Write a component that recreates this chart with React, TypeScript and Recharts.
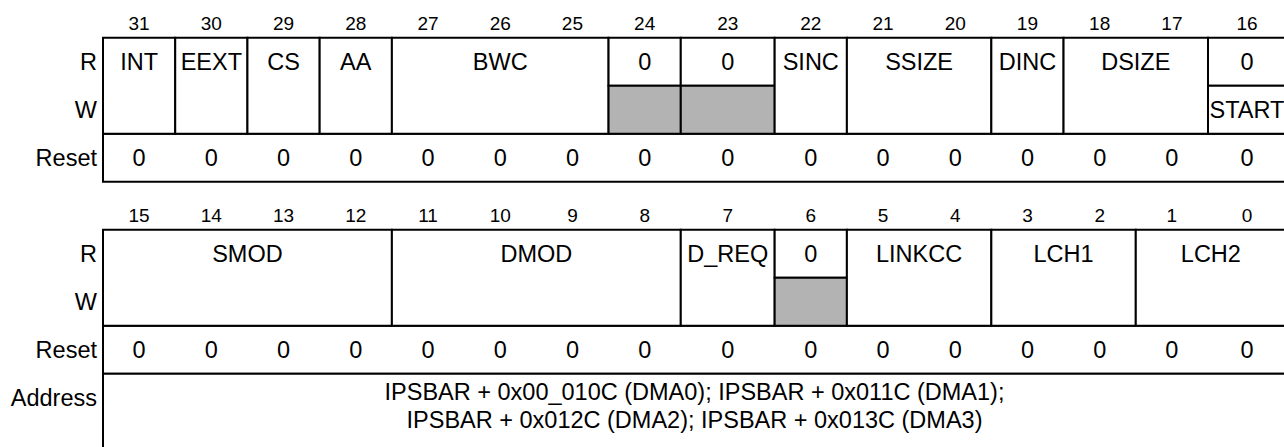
import React from 'react';
import { ComposedChart, XAxis, YAxis, ReferenceArea, Scatter, LabelList } from 'recharts';

// ---- data ----
const bitNumbers = [31, 30, 29, 28, 27, 26, 25, 24, 23, 22, 21, 20, 19, 18, 17, 16, 15, 14, 13, 12, 11, 10, 9, 8, 7, 6, 5, 4, 3, 2, 1, 0];
const resetValues = [0, 0, 0, 0, 0, 0, 0, 0, 0, 0, 0, 0, 0, 0, 0, 0, 0, 0, 0, 0, 0, 0, 0, 0, 0, 0, 0, 0, 0, 0, 0, 0];

const fieldNames = ['INT', 'EEXT', 'CS', 'AA', 'BWC', '0', '0', 'SINC', 'SSIZE', 'DINC', 'DSIZE', '0', 'SMOD', 'DMOD', 'D_REQ', '0', 'LINKCC', 'LCH1', 'LCH2'];
const fieldMsb = [31, 30, 29, 28, 27, 24, 23, 22, 21, 19, 18, 16, 15, 11, 7, 6, 5, 3, 1];
const fieldLsb = [31, 30, 29, 28, 25, 24, 23, 22, 20, 19, 17, 16, 12, 8, 7, 6, 4, 2, 0];
// rw = read/write field, r = read-only (write shaded), split = separate read / write names
const fieldAccess = ['rw', 'rw', 'rw', 'rw', 'rw', 'r', 'r', 'rw', 'rw', 'rw', 'rw', 'split', 'rw', 'rw', 'rw', 'r', 'rw', 'rw', 'rw'];
const fieldWriteNames = ['', '', '', '', '', '', '', '', '', '', '', 'START', '', '', '', '', '', '', ''];

const rowLabels = ['R', 'W', 'Reset', 'R', 'W', 'Reset', 'Address'];
const addressLines = [
  'IPSBAR + 0x00_010C (DMA0); IPSBAR + 0x011C (DMA1);',
  'IPSBAR + 0x012C (DMA2); IPSBAR + 0x013C (DMA3)',
];

// ---- layout / style ----
const FONT = '"Liberation Sans", Arial, Helvetica, sans-serif';
const TEXT_SIZE = 23.5;
const BIT_SIZE = 19;
const GRAY = '#b3b3b3';
const LINE = '#000';

// column layout: slot = bit % 16 (15 at left, 0 at right); a few columns are drawn wider
const slotWidth = (s: number) => (s === 7 ? 1.3 : s === 0 ? 1.08 : 1);
const slotLeft = (s: number) => {
  let x = 0;
  for (let k = 15; k > s; k--) x += slotWidth(k);
  return x;
};
const X_MAX = slotLeft(0) + slotWidth(0);
const slotCenter = (s: number) => slotLeft(s) + slotWidth(s) / 2;

const blockTop = (bit: number) => (bit >= 16 ? 0 : 4);
const rowTicks = [0.5, 1.5, 2.5, 4.5, 5.5, 6.5, 7.5];

const bitPoints = bitNumbers.map((b) => ({ x: slotCenter(b % 16), y: blockTop(b) - 0.31, v: String(b) }));
const resetPoints = resetValues.map((v, i) => {
  const b = bitNumbers[i];
  return { x: slotCenter(b % 16), y: blockTop(b) + 2.5, v: String(v) };
});

const Invisible = () => <g />;

const textStyle = { fontSize: TEXT_SIZE, fontFamily: FONT, fill: '#000' };
const centerLabel = (value: string) => ({ value, position: 'center' as const, ...textStyle });

const AddressLabel = (props: any) => {
  const vb = props.viewBox || {};
  const cx = vb.x + vb.width / 2;
  return (
    <text textAnchor="middle" fontSize={TEXT_SIZE} fontFamily={FONT} fill="#000">
      {addressLines.map((l, i) => (
        <tspan key={i} x={cx} y={vb.y + 26 + i * 28}>
          {l}
        </tspan>
      ))}
    </text>
  );
};

export default function App() {
  const cells: React.ReactNode[] = [];

  [0, 4].forEach((top, k) => {
    cells.push(
      <ReferenceArea key={`reset-${k}`} x1={0} x2={X_MAX} y1={top + 2} y2={top + 3} fill="#fff" fillOpacity={1} stroke={LINE} strokeWidth={2} ifOverflow="visible" />
    );
  });
  cells.push(
    <ReferenceArea key="address" x1={0} x2={X_MAX} y1={7} y2={9.6} fill="#fff" fillOpacity={1} stroke={LINE} strokeWidth={2} ifOverflow="visible" label={AddressLabel} />
  );

  fieldNames.forEach((name, i) => {
    const msb = fieldMsb[i];
    const lsb = fieldLsb[i];
    const top = blockTop(msb);
    const x1 = slotLeft(msb % 16);
    const x2 = slotLeft(lsb % 16) + slotWidth(lsb % 16);
    const acc = fieldAccess[i];
    if (acc === 'rw') {
      cells.push(
        <ReferenceArea key={`f-${i}`} x1={x1} x2={x2} y1={top} y2={top + 2} fill="#fff" fillOpacity={1} stroke={LINE} strokeWidth={2} ifOverflow="visible" />
      );
      cells.push(
        <ReferenceArea key={`fl-${i}`} x1={x1} x2={x2} y1={top} y2={top + 1} fill="none" fillOpacity={0} stroke="none" ifOverflow="visible" label={centerLabel(name)} />
      );
    } else {
      cells.push(
        <ReferenceArea key={`fr-${i}`} x1={x1} x2={x2} y1={top} y2={top + 1} fill="#fff" fillOpacity={1} stroke={LINE} strokeWidth={2} ifOverflow="visible" label={centerLabel(name)} />
      );
      cells.push(
        <ReferenceArea
          key={`fw-${i}`}
          x1={x1}
          x2={x2}
          y1={top + 1}
          y2={top + 2}
          fill={acc === 'r' ? GRAY : '#fff'}
          fillOpacity={1}
          stroke={LINE}
          strokeWidth={2}
          ifOverflow="visible"
          label={acc === 'split' ? centerLabel(fieldWriteNames[i]) : undefined}
        />
      );
    }
  });

  return (
    <div style={{ position: 'absolute', left: 0, top: 0, width: 1284, height: 447, background: '#fff', overflow: 'hidden' }}>
      <ComposedChart width={1284} height={447} margin={{ top: 0, right: -2, bottom: 0, left: 0 }}>
        <XAxis type="number" dataKey="x" domain={[0, X_MAX]} hide allowDataOverflow />
        <YAxis
          type="number"
          dataKey="y"
          domain={[-0.785, 8.527]}
          reversed
          allowDataOverflow
          width={103}
          ticks={rowTicks}
          interval={0}
          tickFormatter={(v: number) => rowLabels[rowTicks.indexOf(v)] ?? ''}
          axisLine={false}
          tickLine={false}
          tickSize={0}
          tickMargin={6}
          tick={{ fontSize: TEXT_SIZE, fontFamily: FONT, fill: '#000' }}
        />
        {cells}
        <Scatter data={bitPoints} shape={Invisible} isAnimationActive={false}>
          <LabelList dataKey="v" position="center" fontSize={BIT_SIZE} fontFamily={FONT} fill="#000" />
        </Scatter>
        <Scatter data={resetPoints} shape={Invisible} isAnimationActive={false}>
          <LabelList dataKey="v" position="center" fontSize={TEXT_SIZE} fontFamily={FONT} fill="#000" />
        </Scatter>
      </ComposedChart>
    </div>
  );
}
